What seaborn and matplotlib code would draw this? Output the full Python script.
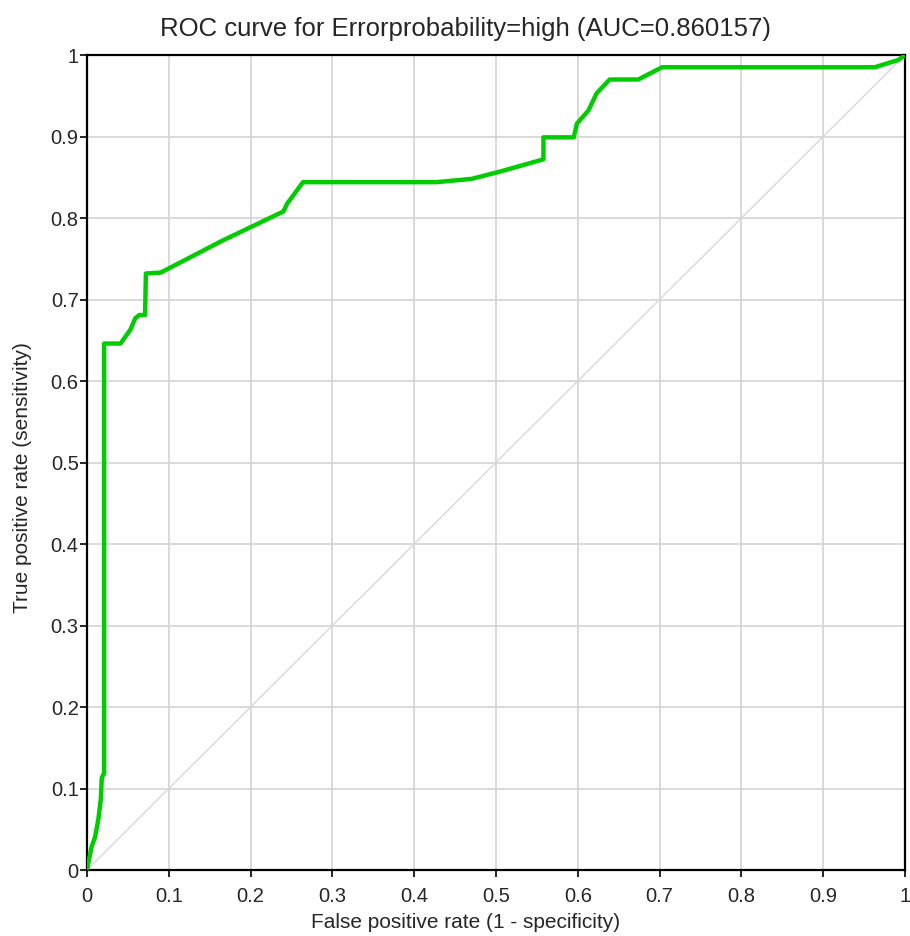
import numpy as np
import pandas as pd
import matplotlib
matplotlib.use("Agg")
import matplotlib.pyplot as plt
import seaborn as sns

# ROC points
fpr = [0.0, 0.0055, 0.010, 0.014, 0.017, 0.018, 0.021, 0.021, 0.041, 0.053,
       0.059, 0.064, 0.071, 0.072, 0.090, 0.165, 0.240, 0.245, 0.264, 0.427,
       0.470, 0.505, 0.558, 0.558, 0.595, 0.599, 0.613, 0.623, 0.639, 0.674,
       0.703, 0.963, 0.992, 1.0]
tpr = [0.0, 0.028, 0.041, 0.063, 0.088, 0.113, 0.119, 0.646, 0.646, 0.663,
       0.677, 0.681, 0.681, 0.732, 0.733, 0.772, 0.808, 0.818, 0.844, 0.844,
       0.848, 0.857, 0.872, 0.899, 0.899, 0.916, 0.932, 0.953, 0.970, 0.970,
       0.985, 0.985, 0.994, 1.0]
diag = [0.0, 1.0]
ticks = [0, 0.1, 0.2, 0.3, 0.4, 0.5, 0.6, 0.7, 0.8, 0.9, 1]
tick_labels = ["0", "0.1", "0.2", "0.3", "0.4", "0.5", "0.6", "0.7", "0.8", "0.9", "1"]
auc = 0.860157

sns.set_style("white")
plt.rcParams["font.family"] = ["Liberation Sans", "DejaVu Sans"]

roc_df = pd.DataFrame({"fpr": fpr, "tpr": tpr})

fig = plt.figure(figsize=(9.1, 9.36), dpi=100)
ax = fig.add_axes([0.0956, 0.0705, 0.8989, 0.8707])

ax.grid(True, color="#d3d3d3", linewidth=1.2)
ax.set_axisbelow(True)
ax.plot(diag, diag, color="#d8d8d8", linewidth=1.0, zorder=1)
sns.lineplot(data=roc_df, x="fpr", y="tpr", sort=False, estimator=None,
             color="#00cc00", linewidth=3.2, ax=ax, zorder=3)

ax.set_xlim(0, 1)
ax.set_ylim(0, 1)
ax.set_xticks(ticks)
ax.set_xticklabels(tick_labels)
ax.set_yticks(ticks)
ax.set_yticklabels(tick_labels)
ax.tick_params(direction="out", length=5, width=1.2, color="black",
               labelsize=14.5, left=True, bottom=True)
ax.tick_params(axis="y", pad=1)
ax.tick_params(axis="x", pad=7)
for side in ["left", "bottom", "top", "right"]:
    ax.spines[side].set_color("black")
    ax.spines[side].set_linewidth(1.6)

ax.set_xlabel("False positive rate (1 - specificity)", fontsize=15)
ax.set_ylabel("True positive rate (sensitivity)", fontsize=15)
ax.xaxis.set_label_coords(0.463, -0.053)
ax.yaxis.set_label_coords(-0.067, 0.481)
fig.text(0.511, 0.969, f"ROC curve for Errorprobability=high (AUC={auc:.6f})",
         fontsize=18.5, ha="center", va="center")

plt.savefig("out.png", dpi=100)
